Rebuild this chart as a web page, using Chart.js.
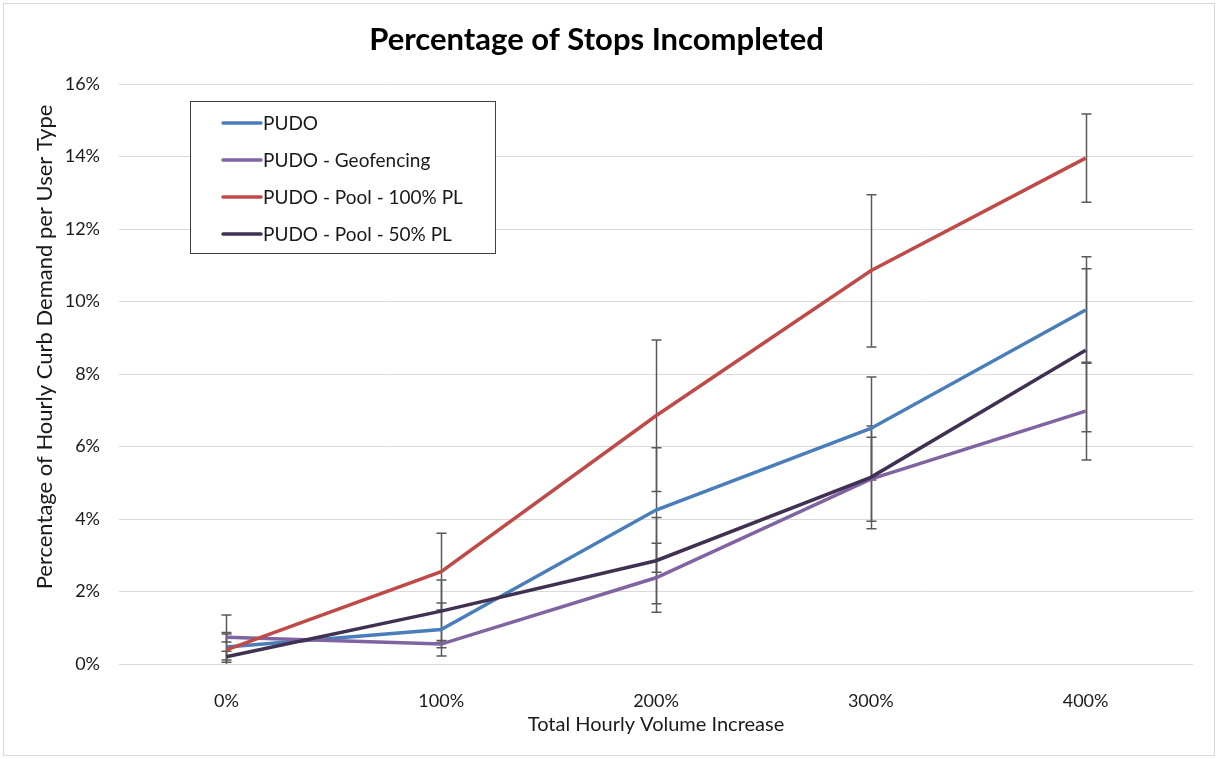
<!DOCTYPE html>
<html>
<head>
<meta charset="utf-8">
<title>Percentage of Stops Incompleted</title>
<script src="https://cdn.jsdelivr.net/npm/chart.js@4/dist/chart.umd.min.js"></script>
<style>
  html, body { margin: 0; padding: 0; background: #fff; }
  #frame { position: absolute; left: 3px; top: 3px; width: 1212px; height: 753px;
           border: 1px solid #d9d9d9; box-sizing: border-box; }
  #wrap { position: absolute; left: 0; top: 0; width: 1219px; height: 759px; }
</style>
</head>
<body>
<div id="frame"></div>
<div id="wrap"><canvas id="chart" width="1219" height="759"></canvas></div>
<script>
// Volume increase categories on the x axis
const categories = ['0%', '100%', '200%', '300%', '400%'];

// Series names
const seriesNames = ['PUDO', 'PUDO - Geofencing', 'PUDO - Pool - 100% PL', 'PUDO - Pool - 50% PL'];

// Mean share of stops incompleted (%)
const pudo        = [0.47, 0.95, 4.25, 6.50, 9.77];
const geofencing  = [0.74, 0.55, 2.38, 5.10, 6.98];
const pool100     = [0.39, 2.55, 6.85, 10.85, 13.96];
const pool50      = [0.20, 1.46, 2.85, 5.15, 8.66];

// Symmetric error bar half-widths (%)
const pudoErr       = [0.36, 0.73, 1.72, 1.42, 1.47];
const geofencingErr = [0.13, 0.10, 0.95, 1.16, 1.35];
const pool100Err    = [0.96, 1.06, 2.09, 2.10, 1.22];
const pool50Err     = [0.15, 0.86, 1.19, 1.42, 2.25];

// Value axis ticks (%)
const yTicks = [0, 2, 4, 6, 8, 10, 12, 14, 16];

const colors = ['#4A7EBB', '#8064A2', '#BE4B48', '#403152'];
const FONT = 'Lato, "Open Sans", sans-serif';
const TEXT = '#1a1a1a';

const errorBars = {
  id: 'errorBars',
  beforeDatasetsDraw(chart) {
    const { ctx, chartArea: a, scales: { x, y } } = chart;
    ctx.save();
    ctx.beginPath();
    ctx.rect(a.left, a.top - 2, a.right - a.left, a.bottom - a.top + 2);
    ctx.clip();
    ctx.strokeStyle = '#595959';
    ctx.lineWidth = 1.5;
    chart.data.datasets.forEach(ds => {
      ds.data.forEach((v, i) => {
        const e = ds.errors[i];
        const px = Math.round(x.getPixelForValue(i)) + 0.5;
        const yt = y.getPixelForValue(v + e);
        const yb = y.getPixelForValue(v - e);
        ctx.beginPath();
        ctx.moveTo(px, yt); ctx.lineTo(px, yb);
        ctx.moveTo(px - 5, yt); ctx.lineTo(px + 5, yt);
        ctx.moveTo(px - 5, yb); ctx.lineTo(px + 5, yb);
        ctx.stroke();
      });
    });
    ctx.restore();
  }
};

const legendBox = {
  id: 'legendBox',
  afterDraw(chart) {
    const ctx = chart.ctx;
    const bx = 190, by = 101, bw = 305, bh = 152;
    ctx.save();
    ctx.fillStyle = '#fff';
    ctx.fillRect(bx, by, bw, bh);
    ctx.strokeStyle = '#404040';
    ctx.lineWidth = 1;
    ctx.strokeRect(bx + 0.5, by + 0.5, bw, bh);
    ctx.font = '19px ' + FONT;
    ctx.textBaseline = 'middle';
    ctx.textAlign = 'left';
    chart.data.datasets.forEach((ds, i) => {
      const yy = by + 22 + i * 37;
      ctx.strokeStyle = ds.borderColor;
      ctx.lineWidth = 3.5;
      ctx.lineCap = 'round';
      ctx.beginPath();
      ctx.moveTo(223, yy); ctx.lineTo(261, yy);
      ctx.stroke();
      ctx.fillStyle = TEXT;
      ctx.fillText(ds.label, 263, yy + 1);
    });
    ctx.restore();
  }
};

const yTitle = {
  id: 'yTitle',
  afterDraw(chart) {
    const ctx = chart.ctx;
    ctx.save();
    ctx.translate(45, 347);
    ctx.rotate(-Math.PI / 2);
    ctx.font = '22px ' + FONT;
    ctx.fillStyle = TEXT;
    ctx.textAlign = 'center';
    ctx.textBaseline = 'middle';
    ctx.fillText('Percentage of Hourly Curb Demand per User Type', 0, 0);
    ctx.restore();
  }
};

const series = [pudo, geofencing, pool100, pool50];
const errs = [pudoErr, geofencingErr, pool100Err, pool50Err];

new Chart(document.getElementById('chart'), {
  type: 'line',
  data: {
    labels: categories,
    datasets: series.map((d, i) => ({
      label: seriesNames[i],
      data: d,
      errors: errs[i],
      borderColor: colors[i],
      backgroundColor: colors[i],
      borderWidth: 3.5,
      pointRadius: 0,
      tension: 0,
      fill: false,
      order: 4 - i
    }))
  },
  options: {
    responsive: false,
    animation: false,
    layout: { padding: { left: 0, right: 26, top: 0, bottom: 0 } },
    plugins: {
      legend: { display: false },
      tooltip: { enabled: false },
      title: {
        display: true,
        text: 'Percentage of Stops Incompleted',
        color: '#000',
        font: { family: FONT, size: 31, weight: 'bold' },
        padding: { top: 21, bottom: 26 }
      }
    },
    scales: {
      x: {
        offset: true,
        grid: { display: false },
        border: { display: false },
        ticks: { color: TEXT, font: { family: FONT, size: 18 }, padding: 18, maxRotation: 0 },
        title: {
          display: true,
          text: 'Total Hourly Volume Increase',
          color: TEXT,
          font: { family: FONT, size: 20 },
          padding: { top: 0, bottom: 22 }
        },
        afterFit(s) { s.height = 95; }
      },
      y: {
        min: yTicks[0],
        max: yTicks[yTicks.length - 1],
        afterBuildTicks(s) { s.ticks = yTicks.map(v => ({ value: v })); },
        grid: { color: '#d9d9d9', lineWidth: 1, drawTicks: false },
        border: { display: false },
        ticks: {
          color: TEXT,
          font: { family: FONT, size: 18 },
          padding: 19,
          callback: v => v + '%'
        },
        afterFit(s) { s.width = 119; }
      }
    }
  },
  plugins: [errorBars, legendBox, yTitle]
});
</script>
</body>
</html>
